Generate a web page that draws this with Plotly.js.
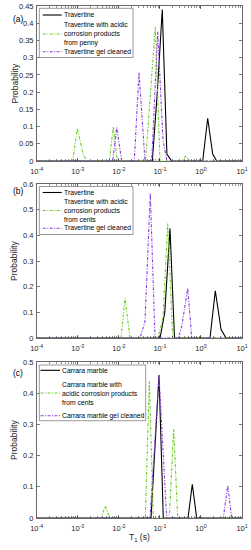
<!DOCTYPE html>
<html>
<head>
<meta charset="utf-8">
<script src="https://cdn.plot.ly/plotly-3.0.1.min.js"></script>
<style>html,body{margin:0;padding:0;background:#fff;}#chart{width:251px;height:550px;}</style>
</head>
<body>
<div id="chart"></div>
<script>
// ---------- data (T1 in seconds, probability) ----------
const xTickVals = [1e-4, 1e-3, 1e-2, 1e-1, 1, 10];
const xTickText = ['10<sup>-4</sup>', '10<sup>-3</sup>', '10<sup>-2</sup>', '10<sup>-1</sup>', '10<sup>0</sup>', '10<sup>1</sup>'];

// Panel (a)
const a_trav_x = [1e-4, 0.0654, 0.0866, 0.1145, 0.1483, 0.194, 1.104, 1.461, 1.933, 2.42, 10];
const a_trav_y = [0, 0, 0.20, 0.44, 0.02, 0, 0, 0.124, 0.02, 0, 0];
const a_acid_x = [1e-4, 7.53e-4, 9.75e-4, 1.364e-3, 1.707e-3, 5.86e-3, 7.34e-3, 9.18e-3, 0.0447, 0.0584, 0.0773, 0.1007, 0.340, 0.4255, 0.5417, 10];
const a_acid_y = [0, 0, 0.095, 0.017, 0, 0, 0.10, 0, 0, 0.18, 0.39, 0, 0, 0.014, 0, 0];
const a_gel_x = [1e-4, 7.10e-3, 8.88e-3, 0.01175, 0.02382, 0.0310, 0.0434, 0.0632, 0.0885, 0.1191, 0.1491, 10];
const a_gel_y = [0, 0, 0.097, 0, 0, 0.257, 0, 0, 0.375, 0.06, 0, 0];

// Panel (b)
const b_trav_x = [1e-4, 0.1007, 0.1318, 0.1764, 0.2271, 1.662, 2.237, 3.081, 4.077, 10];
const b_trav_y = [0, 0, 0.10, 0.427, 0, 0, 0.184, 0.034, 0, 0];
const b_acid_x = [1e-4, 0.01130, 0.01414, 0.01872, 0.0900, 0.1191, 0.1550, 0.2052, 10];
const b_acid_y = [0, 0, 0.155, 0, 0, 0.08, 0.447, 0, 0];
const b_gel_x = [1e-4, 0.0328, 0.0434, 0.0584, 0.0761, 0.2810, 0.340, 0.476, 0.5957, 10];
const b_gel_y = [0, 0, 0.064, 0.564, 0, 0, 0.044, 0.194, 0, 0];

// Panel (c)
const c_marb_x = [1e-4, 0.0608, 0.0952, 0.1211, 0.484, 0.616, 0.788, 10];
const c_marb_y = [0, 0, 0.458, 0, 0, 0.108, 0, 0];
const c_acid_x = [1e-4, 3.68e-3, 4.68e-3, 6.10e-3, 0.0442, 0.0553, 0.0692, 0.1696, 0.2171, 0.2716, 10];
const c_acid_y = [0, 0, 0.038, 0, 0, 0.439, 0, 0, 0.285, 0, 0];
const c_gel_x = [1e-4, 0.0575, 0.0952, 0.1466, 3.505, 4.484, 5.613, 10];
const c_gel_y = [0, 0, 0.458, 0, 0, 0.104, 0, 0];

const namesA = ['Travertine', 'Travertine with acidic<br>corrosion products<br>from penny', 'Travertine gel cleaned'];
const namesB = ['Travertine', 'Travertine with acidic<br>corrosion products<br>from cents', 'Travertine gel cleaned'];
const namesC = ['Carrara marble', 'Carrara marble with<br>acidic corrosion products<br>from cents', 'Carrara marble gel cleaned'];
const panelLabels = ['(a)', '(b)', '(c)'];
const yTitle = 'Probability';

// ---------- styling ----------
const FONT = 'Liberation Sans, Arial, sans-serif';
const AX = '#262626';
const W = 251, H = 550;
const DASHDOT = '3px,1.5px,1px,1.5px';
const styles = [
  {color: '#000000', dash: 'solid'},
  {color: '#6fcc28', dash: DASHDOT},
  {color: '#8c3cdc', dash: DASHDOT}
];

function tr(x, y, name, si, xa, ya) {
  return {x: x, y: y, name: name, type: 'scatter', mode: 'lines',
    line: {color: styles[si].color, width: 1.1, dash: styles[si].dash},
    xaxis: xa, yaxis: ya, showlegend: false, hoverinfo: 'skip'};
}

const data = [
  tr(a_trav_x, a_trav_y, namesA[0], 0, 'x', 'y'),
  tr(a_acid_x, a_acid_y, namesA[1], 1, 'x', 'y'),
  tr(a_gel_x, a_gel_y, namesA[2], 2, 'x', 'y'),
  tr(b_trav_x, b_trav_y, namesB[0], 0, 'x2', 'y2'),
  tr(b_acid_x, b_acid_y, namesB[1], 1, 'x2', 'y2'),
  tr(b_gel_x, b_gel_y, namesB[2], 2, 'x2', 'y2'),
  tr(c_marb_x, c_marb_y, namesC[0], 0, 'x3', 'y3'),
  tr(c_acid_x, c_acid_y, namesC[1], 1, 'x3', 'y3'),
  tr(c_gel_x, c_gel_y, namesC[2], 2, 'x3', 'y3')
];

const xDom = [36.7 / W, 242 / W];
function yd(top, bot) { return [1 - bot / H, 1 - top / H]; }
function py(p) { return 1 - p / H; }
function px(p) { return p / W; }

function xAxis(anchor, showTitle) {
  const o = {
    type: 'log', range: [-4, 1], domain: xDom, anchor: anchor,
    tickmode: 'array', tickvals: xTickVals, ticktext: xTickText,
    ticks: 'inside', ticklen: 3, tickwidth: 0.6, tickcolor: AX,
    showline: true, linecolor: AX, linewidth: 0.7, mirror: 'ticks',
    showgrid: false, zeroline: false, ticklabelstandoff: 3,
    tickfont: {family: FONT, size: 7.5, color: AX},
    minor: {ticks: 'inside', ticklen: 1.8, tickwidth: 0.5, tickcolor: AX, dtick: 'D1', showgrid: false}
  };
  if (showTitle) {
    o.title = {text: 'T<sub>1</sub> (s)', font: {family: FONT, size: 8.5, color: AX}, standoff: 2};
  }
  return o;
}
function yAxis(anchor, dom, maxv, dt) {
  return {
    domain: dom, anchor: anchor, range: [0, maxv], dtick: dt, tick0: 0,
    ticks: 'inside', ticklen: 3, tickwidth: 0.6, tickcolor: AX,
    showline: true, linecolor: AX, linewidth: 0.7, mirror: 'ticks',
    showgrid: false, zeroline: false, ticklabelstandoff: 1,
    tickfont: {family: FONT, size: 7.5, color: AX}
  };
}

// ---------- hand-placed legends (pixel geometry of the reference) ----------
const legendBoxes = [
  {l: 39.3, r: 133, t: 8.3, b: 57.5, rows: [15, 34, 51.7], names: namesA, lx0: 42.7, lx1: 61.7, tx: 62.7},
  {l: 39.3, r: 133, t: 186.5, b: 234.5, rows: [192.5, 210.5, 228.3], names: namesB, lx0: 42.7, lx1: 61.7, tx: 62.7},
  {l: 39.3, r: 145.7, t: 365, b: 420.7, rows: [370.3, 393, 415.7], names: namesC, lx0: 40.5, lx1: 60, tx: 61}
];
const shapes = [];
const annotations = [];
legendBoxes.forEach(function (lb) {
  shapes.push({type: 'rect', xref: 'paper', yref: 'paper', x0: px(lb.l), x1: px(lb.r), y0: py(lb.b), y1: py(lb.t),
    line: {color: '#6f6f6f', width: 0.7}, fillcolor: '#ffffff', layer: 'above'});
  lb.rows.forEach(function (ry, i) {
    shapes.push({type: 'line', xref: 'paper', yref: 'paper', x0: px(lb.lx0), x1: px(lb.lx1), y0: py(ry), y1: py(ry),
      line: {color: styles[i].color, width: 1.1, dash: styles[i].dash}, layer: 'above'});
    annotations.push({text: lb.names[i], xref: 'paper', yref: 'paper', x: px(lb.tx), y: py(ry),
      xanchor: 'left', yanchor: 'middle', align: 'left', showarrow: false, borderpad: 0,
      font: {family: FONT, size: 6.8, color: '#000'}});
  });
});
[[panelLabels[0], 12.8], [panelLabels[1], 191.5], [panelLabels[2], 378.5]].forEach(function (p) {
  annotations.push({text: p[0], x: px(12), y: py(p[1]), xref: 'paper', yref: 'paper', showarrow: false,
    borderpad: 0, font: {family: FONT, size: 8.5, color: '#000'}});
});
[83.5, 261, 440].forEach(function (cy) {
  annotations.push({text: yTitle, x: px(14), y: py(cy), xref: 'paper', yref: 'paper', showarrow: false,
    textangle: -90, xanchor: 'center', yanchor: 'middle', borderpad: 0,
    font: {family: FONT, size: 8.5, color: AX}});
});

const layout = {
  width: W, height: H,
  margin: {l: 0, r: 0, t: 0, b: 0},
  paper_bgcolor: '#fff', plot_bgcolor: '#fff',
  showlegend: false,
  xaxis: xAxis('y', false),
  xaxis2: xAxis('y2', false),
  xaxis3: xAxis('y3', true),
  yaxis: yAxis('x', yd(6, 161), 0.45, 0.05),
  yaxis2: yAxis('x2', yd(184, 338), 0.6, 0.1),
  yaxis3: yAxis('x3', yd(362, 518), 0.5, 0.1),
  shapes: shapes,
  annotations: annotations
};

Plotly.newPlot('chart', data, layout, {staticPlot: true, displayModeBar: false});
</script>
</body>
</html>
